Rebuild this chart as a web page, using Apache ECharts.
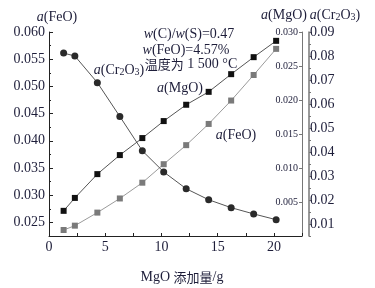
<!DOCTYPE html>
<html>
<head>
<meta charset="utf-8">
<script src="https://cdn.jsdelivr.net/npm/echarts@6/dist/echarts.min.js"></script>
<style>
  html, body { margin: 0; padding: 0; background: #fff; }
  #chart { width: 375px; height: 288px; }
</style>
</head>
<body>
<div id="chart"></div>
<script>
// MgO 添加量 (g)
const mgoAdd = [1.3, 2.3, 4.3, 6.3, 8.3, 10.2, 12.2, 14.2, 16.2, 18.2, 20.2]
// 活度值
const aFeO = [0.0236, 0.0244, 0.0268, 0.0294, 0.0323, 0.0357, 0.0392, 0.0431, 0.0474, 0.0521, 0.0569]
const aMgO = [0.0037, 0.0056, 0.0091, 0.0119, 0.0144, 0.0169, 0.0193, 0.0212, 0.0238, 0.0263, 0.0287]
const aCr2O3 = [0.0812, 0.0800, 0.0689, 0.0548, 0.0405, 0.0317, 0.0247, 0.0201, 0.0168, 0.0142, 0.0118]

const feoTicks = [0.025, 0.03, 0.035, 0.04, 0.045, 0.05, 0.055, 0.06]
const cr2o3Ticks = [0.01, 0.02, 0.03, 0.04, 0.05, 0.06, 0.07, 0.08, 0.09]

const serif = 'Liberation Serif'
const txt = '#1e1e3a'

function pairs(ys) {
  return mgoAdd.map((x, i) => [x, ys[i]])
}

const chart = echarts.init(document.getElementById('chart'))

const option = {
  animation: false,
  grid: { left: 49, right: 73, top: 32, bottom: 52 },
  xAxis: {
    type: 'value',
    min: 0,
    max: 22.5,
    interval: 2.5,
    splitLine: { show: false },
    axisLine: { lineStyle: { color: '#222', width: 1 } },
    axisTick: { inside: true, length: 3, lineStyle: { color: '#222' } },
    axisLabel: {
      color: txt,
      fontFamily: serif,
      fontSize: 14,
      margin: 4,
      formatter: v => (Math.abs(v % 5) < 1e-6 ? String(v) : '')
    }
  },
  yAxis: [
    {
      // a(FeO)
      type: 'value',
      position: 'left',
      min: 0.0225,
      max: 0.06,
      interval: 0.0025,
      splitLine: { show: false },
      axisLine: { show: true, lineStyle: { color: '#222' } },
      axisTick: { inside: true, length: 4, customValues: feoTicks, lineStyle: { color: '#222' } },
      axisLabel: {
        color: txt,
        fontFamily: serif,
        fontSize: 14,
        margin: 4,
        customValues: feoTicks,
        formatter: v => v.toFixed(3)
      }
    },
    {
      // a(FeO) 次刻度
      type: 'value',
      position: 'left',
      min: 0.0225,
      max: 0.06,
      interval: 0.0025,
      splitLine: { show: false },
      axisLine: { show: false },
      axisTick: { show: true, inside: true, length: 2, lineStyle: { color: '#222' } },
      axisLabel: { show: false }
    },
    {
      // a(MgO)
      type: 'value',
      position: 'right',
      min: 0,
      max: 0.03,
      interval: 0.005,
      splitLine: { show: false },
      axisLine: { show: true, lineStyle: { color: '#777' } },
      axisTick: { inside: true, length: 3, lineStyle: { color: '#777' } },
      axisLabel: {
        inside: true,
        color: txt,
        fontFamily: serif,
        fontSize: 10,
        margin: 4,
        showMinLabel: false,
        formatter: v => (v === 0 ? '' : v.toFixed(3))
      }
    },
    {
      // a(Cr2O3)
      type: 'value',
      position: 'right',
      offset: 7,
      min: 0.005,
      max: 0.09,
      interval: 0.005,
      splitLine: { show: false },
      axisLine: { show: true, lineStyle: { color: '#777', width: 1.5 } },
      axisTick: { length: 3, customValues: cr2o3Ticks, lineStyle: { color: '#777' } },
      axisLabel: {
        color: txt,
        fontFamily: serif,
        fontSize: 14,
        margin: 1,
        customValues: cr2o3Ticks,
        formatter: v => v.toFixed(2)
      }
    },
    {
      // a(Cr2O3) 次刻度
      type: 'value',
      position: 'right',
      offset: 7,
      min: 0.005,
      max: 0.09,
      interval: 0.005,
      splitLine: { show: false },
      axisLine: { show: false },
      axisTick: { show: true, length: 2, lineStyle: { color: '#777' } },
      axisLabel: { show: false }
    }
  ],
  series: [
    {
      name: 'a(FeO)',
      type: 'line',
      yAxisIndex: 0,
      data: pairs(aFeO),
      symbol: 'rect',
      symbolSize: 6,
      itemStyle: { color: '#7a7a7a' },
      lineStyle: { color: '#9a9a9a', width: 1 }
    },
    {
      name: 'a(MgO)',
      type: 'line',
      yAxisIndex: 2,
      data: pairs(aMgO),
      symbol: 'rect',
      symbolSize: 6,
      itemStyle: { color: '#111' },
      lineStyle: { color: '#555', width: 1 }
    },
    {
      name: 'a(Cr2O3)',
      type: 'line',
      yAxisIndex: 3,
      data: pairs(aCr2O3),
      symbol: 'circle',
      symbolSize: 7,
      itemStyle: { color: '#2a2a2a' },
      lineStyle: { color: '#555', width: 1 }
    }
  ],
  graphic: [
    {
      type: 'text', x: 57, y: 17,
      style: { text: '{i|a}(FeO)', align: 'center', verticalAlign: 'middle', font: '14px ' + serif, fill: txt,
        rich: { i: { fontStyle: 'italic', fontFamily: serif, fontSize: 14 } } }
    },
    {
      type: 'text', x: 284, y: 15,
      style: { text: '{i|a}(MgO)', align: 'center', verticalAlign: 'middle', font: '14px ' + serif, fill: txt,
        rich: { i: { fontStyle: 'italic', fontFamily: serif, fontSize: 14 } } }
    },
    {
      type: 'text', x: 335, y: 15,
      style: { text: '{i|a}(Cr{s|2}O{s|3})', align: 'center', verticalAlign: 'middle', font: '14px ' + serif, fill: txt,
        rich: { i: { fontStyle: 'italic', fontFamily: serif, fontSize: 14 }, s: { fontFamily: serif, fontSize: 10, padding: [5, 0, 0, 0] } } }
    },
    {
      type: 'text', x: 189, y: 34,
      style: { text: '{i|w}(C)/{i|w}(S)=0.47', align: 'center', verticalAlign: 'middle', font: '14px ' + serif, fill: txt,
        rich: { i: { fontStyle: 'italic', fontFamily: serif, fontSize: 14 } } }
    },
    {
      type: 'text', x: 186, y: 50,
      style: { text: '{i|w}(FeO)=4.57%', align: 'center', verticalAlign: 'middle', font: '14px ' + serif, fill: txt,
        rich: { i: { fontStyle: 'italic', fontFamily: serif, fontSize: 14 } } }
    },
    {
      type: 'text', x: 191, y: 64,
      style: { text: '{c|温度为} 1 500 °C', align: 'center', verticalAlign: 'middle', font: '14px ' + serif, fill: txt,
        rich: { c: { fontFamily: 'Noto Sans CJK SC', fontSize: 13 } } }
    },
    {
      type: 'text', x: 119, y: 70,
      style: { text: '{i|a}(Cr{s|2}O{s|3})', align: 'center', verticalAlign: 'middle', font: '14px ' + serif, fill: txt,
        rich: { i: { fontStyle: 'italic', fontFamily: serif, fontSize: 14 }, s: { fontFamily: serif, fontSize: 10, padding: [5, 0, 0, 0] } } }
    },
    {
      type: 'text', x: 180, y: 88,
      style: { text: '{i|a}(MgO)', align: 'center', verticalAlign: 'middle', font: '14px ' + serif, fill: txt,
        rich: { i: { fontStyle: 'italic', fontFamily: serif, fontSize: 14 } } }
    },
    {
      type: 'text', x: 236, y: 135,
      style: { text: '{i|a}(FeO)', align: 'center', verticalAlign: 'middle', font: '14px ' + serif, fill: txt,
        rich: { i: { fontStyle: 'italic', fontFamily: serif, fontSize: 14 } } }
    },
    {
      type: 'text', x: 182, y: 277,
      style: { text: 'MgO {c|添加量}/g', align: 'center', verticalAlign: 'middle', font: '14px ' + serif, fill: txt,
        rich: { c: { fontFamily: 'Noto Sans CJK SC', fontSize: 13 } } }
    }
  ]
}

chart.setOption(option)
</script>
</body>
</html>
